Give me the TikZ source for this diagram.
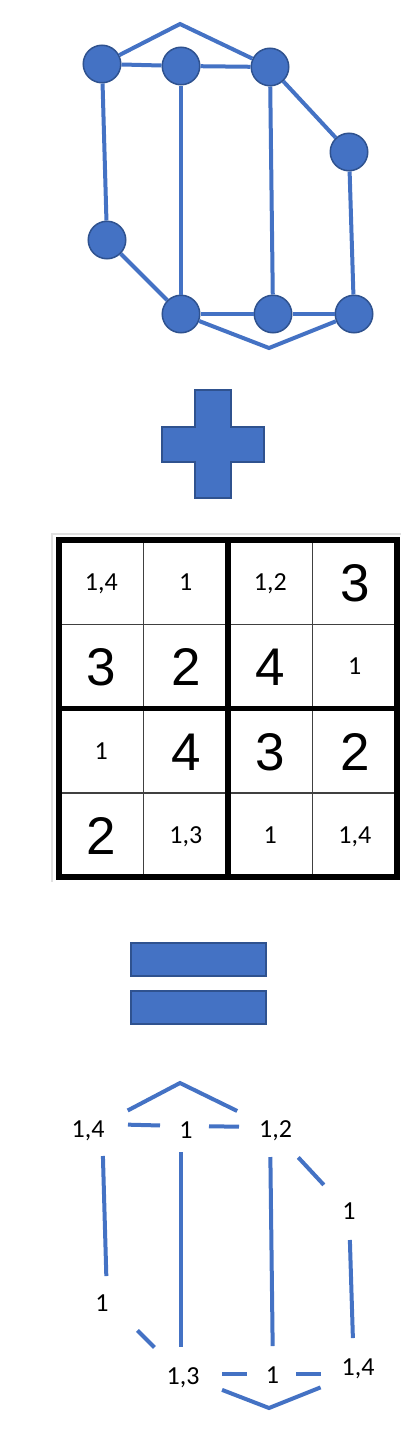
\documentclass[tikz,border=0pt]{standalone}
\usepackage{fontspec}
\setmainfont{Carlito}
\newfontfamily\arialf{Liberation Sans}
\definecolor{gblue}{HTML}{4472C4}
\definecolor{gdark}{HTML}{2F528F}
\begin{document}
\begin{tikzpicture}[x=1pt,y=-1pt,
  vtx/.style={circle,fill=gblue,draw=gdark,line width=1.5pt,minimum size=37.5pt,inner sep=0pt},
  edge/.style={draw=gblue,line width=4pt},
  blueshape/.style={fill=gblue,draw=gdark,line width=1.5pt},
  small/.style={inner sep=0pt,font=\fontsize{26}{26}\selectfont,text height=16.4pt,text depth=0pt},
  big/.style={inner sep=0pt,font=\arialf\fontsize{53}{53}\selectfont,text height=38pt,text depth=0pt},
  thin grid/.style={draw=black!75,line width=1.2pt},
  thick grid/.style={draw=black,line width=5.5pt}]
\useasboundingbox (0,0) rectangle (403,1440);

% ---------- top graph ----------
\node[vtx] (A) at (102,64) {};
\node[vtx] (B) at (181,66) {};
\node[vtx] (C) at (270,67) {};
\node[vtx] (D) at (349,152) {};
\node[vtx] (E) at (107,240) {};
\node[vtx] (F) at (181,314) {};
\node[vtx] (G) at (273,314) {};
\node[vtx] (H) at (354,314) {};
\coordinate (T1) at (180,24);
\coordinate (T2) at (269,348);
\draw[edge] (A) -- (B);
\draw[edge] (B) -- (C);
\draw[edge] (A) -- (T1) -- (C);
\draw[edge] (C) -- (D);
\draw[edge] (D) -- (H);
\draw[edge] (A) -- (E);
\draw[edge] (E) -- (F);
\draw[edge] (B) -- (F);
\draw[edge] (C) -- (G);
\draw[edge] (F) -- (G);
\draw[edge] (G) -- (H);
\draw[edge] (F) -- (T2) -- (H);

% ---------- plus ----------
\path[blueshape] (195,390) -- (231,390) -- (231,427) -- (264,427) -- (264,462) -- (231,462)
  -- (231,498) -- (195,498) -- (195,462) -- (162,462) -- (162,427) -- (195,427) -- cycle;

% ---------- grid ----------
\draw[black!12,line width=1.5pt] (52,882) -- (52,534) -- (401,534);
\draw[thin grid] (143.5,540) -- (143.5,877);
\draw[thin grid] (312.5,540) -- (312.5,877);
\draw[thin grid] (59,624.5) -- (397,624.5);
\draw[thin grid] (59,793) -- (397,793);
\draw[thick grid] (228,540) -- (228,877);
\draw[thick grid] (59,708.5) -- (397,708.5);
\draw[draw=black,line width=6pt] (59,540) rectangle (397,877);

\node[small] (c11) at (101.25,582.25) {1,4};
\node[small] (c12) at (185.75,582.25) {1};
\node[small] (c13) at (270.25,582.25) {1,2};
\node[big]   (c14) at (354.75,582.25) {3};
\node[big]   (c21) at (101.25,666.75) {3};
\node[big]   (c22) at (185.75,666.75) {2};
\node[big]   (c23) at (270.25,666.75) {4};
\node[small] (c24) at (354.75,666.75) {1};
\node[small] (c31) at (101.25,751.25) {1};
\node[big]   (c32) at (185.75,751.25) {4};
\node[big]   (c33) at (270.25,751.25) {3};
\node[big]   (c34) at (354.75,751.25) {2};
\node[big]   (c41) at (101.25,835.75) {2};
\node[small] (c42) at (185.75,835.75) {1,3};
\node[small] (c43) at (270.25,835.75) {1};
\node[small] (c44) at (354.75,835.75) {1,4};

% ---------- equals ----------
\path[blueshape] (131,943) rectangle (266,976);
\path[blueshape] (131,991) rectangle (266,1024);

% ---------- bottom graph ----------
\coordinate (a2) at (102,1124);
\coordinate (b2) at (181,1126);
\coordinate (c2) at (270,1127);
\coordinate (d2) at (349,1212);
\coordinate (e2) at (107,1300);
\coordinate (f2) at (181,1374);
\coordinate (g2) at (273,1374);
\coordinate (h2) at (354,1374);
\coordinate (t3) at (180,1083);
\coordinate (t4) at (269,1408);

\node[small] (la) at (88,1129) {1,4};
\node[small] (lb) at (186,1130) {1};
\node[small] (lc) at (275.5,1129) {1,2};
\node[small] (ld) at (349,1211) {1};
\node[small] (le) at (102,1303) {1};
\node[small] (lf) at (183,1376) {1,3};
\node[small] (lg) at (272.5,1375) {1};
\node[small] (lh) at (358,1367) {1,4};

\draw[edge,shorten <=26pt,shorten >=21pt] (a2) -- (b2);
\draw[edge,shorten <=28pt,shorten >=31pt] (b2) -- (c2);
\draw[edge,shorten <=29pt,shorten >=36.5pt] (a2) -- (t3) -- (c2);
\draw[edge,shorten <=32pt,shorten >=24pt] (a2) -- (e2);
\draw[edge,shorten <=43pt,shorten >=37.5pt] (e2) -- (f2);
\draw[edge,shorten <=26pt,shorten >=27pt] (b2) -- (f2);
\draw[edge,shorten <=30pt,shorten >=28pt] (c2) -- (g2);
\draw[edge,shorten <=41.5pt,shorten >=37pt] (c2) -- (d2);
\draw[edge,shorten <=28pt,shorten >=36pt] (d2) -- (h2);
\draw[edge,shorten <=41pt,shorten >=26pt] (f2) -- (g2);
\draw[edge,shorten <=23pt,shorten >=33pt] (g2) -- (h2);
\draw[edge,shorten <=44pt,shorten >=36pt] (f2) -- (t4) -- (h2);
\end{tikzpicture}
\end{document}
